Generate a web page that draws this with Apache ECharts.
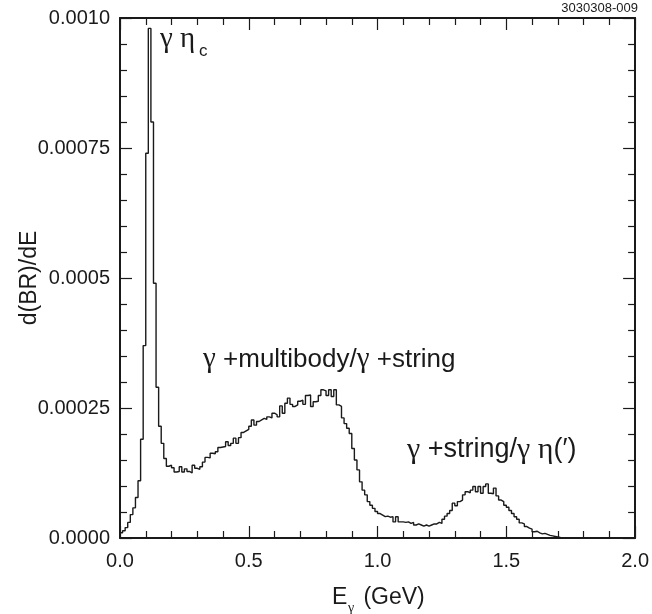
<!DOCTYPE html>
<html>
<head>
<meta charset="utf-8">
<script src="https://cdn.jsdelivr.net/npm/echarts@6/dist/echarts.min.js"></script>
<style>
html,body{margin:0;padding:0;background:#fff;}
#chart{width:652px;height:614px;}
</style>
</head>
<body>
<div id="chart"></div>
<script>
// Histogram: photon energy spectrum, bins of 0.01 GeV starting at 0
const binWidth = 0.01;
const dBRdE = [
  0.000010, 0.000014, 0.000020, 0.000030, 0.000045, 0.000058, 0.000078, 0.000110, 0.000190, 0.000370,
  0.000740, 0.000980, 0.000800, 0.000490, 0.000290, 0.000215, 0.000182, 0.000153, 0.000138, 0.000140,
  0.000135, 0.000127, 0.000128, 0.000137, 0.000127, 0.000133, 0.000128, 0.000125, 0.000140, 0.000134,
  0.000132, 0.000137, 0.000146, 0.000155, 0.000154, 0.000163, 0.000162, 0.000166, 0.000174, 0.000175,
  0.000176, 0.000185, 0.000178, 0.000182, 0.000192, 0.000182, 0.000193, 0.000203, 0.000206, 0.000209,
  0.000215, 0.000227, 0.000217, 0.000224, 0.000227, 0.000230, 0.000228, 0.000233, 0.000231, 0.000240,
  0.000237, 0.000233, 0.000254, 0.000240, 0.000259, 0.000269, 0.000257, 0.000253, 0.000256, 0.000263,
  0.000265, 0.000257, 0.000274, 0.000275, 0.000253, 0.000262, 0.000263, 0.000274, 0.000285, 0.000283,
  0.000274, 0.000285, 0.000272, 0.000285, 0.000256, 0.000253, 0.000231, 0.000220, 0.000211, 0.000201,
  0.000172, 0.000150, 0.000131, 0.000108, 0.000092, 0.000083, 0.000070, 0.000063, 0.000057, 0.000051,
  0.000047, 0.000044, 0.000041, 0.000042, 0.000040, 0.000041, 0.000031, 0.000041, 0.000031, 0.000031,
  0.000030, 0.000031, 0.000028, 0.000030, 0.000025, 0.000027, 0.000025, 0.000023, 0.000025, 0.000023,
  0.000025, 0.000027, 0.000027, 0.000030, 0.000028, 0.000036, 0.000042, 0.000047, 0.000053, 0.000067,
  0.000062, 0.000070, 0.000073, 0.000083, 0.000089, 0.000087, 0.000092, 0.000099, 0.000089, 0.000099,
  0.000086, 0.000099, 0.000104, 0.000086, 0.000085, 0.000096, 0.000081, 0.000073, 0.000070, 0.000063,
  0.000059, 0.000053, 0.000047, 0.000041, 0.000036, 0.000029, 0.000027, 0.000022, 0.000019, 0.000017,
  0.000012, 0.000013, 0.000010, 0.000008, 0.000009, 0.000007, 0.000005, 0.000004, 0.000003, 0.000002,
  0.000001
];
const xTickValues = [0, 0.5, 1.0, 1.5, 2.0];
const xTickLabels = ['0.0', '0.5', '1.0', '1.5', '2.0'];
const yTickValues = [0, 0.00025, 0.0005, 0.00075, 0.001];
const yTickLabels = ['0.0000', '0.00025', '0.0005', '0.00075', '0.0010'];

// build step data: [left edge, value], ending on the right edge of last bin
const histData = [[0, 0]];
dBRdE.forEach((v, i) => histData.push([+(i * binWidth).toFixed(4), v]));
histData.push([+(dBRdE.length * binWidth).toFixed(4), 0]);

function nearestLabel(vals, labels, v) {
  let best = 0;
  for (let i = 1; i < vals.length; i++) if (Math.abs(vals[i] - v) < Math.abs(vals[best] - v)) best = i;
  return Math.abs(vals[best] - v) < 1e-9 ? labels[best] : '';
}

const BLACK = '#1a1a1a';
const SANS = '"Liberation Sans", Arial, Helvetica, sans-serif';
const SERIF = '"Liberation Serif", "Times New Roman", serif';

const commonX = {
  type: 'value', min: 0, max: 2, interval: 0.5,
  axisLine: { show: true, onZero: false, lineStyle: { color: BLACK, width: 2 } },
  axisTick: { show: true, inside: true, length: 12, lineStyle: { color: BLACK, width: 1.2 } },
  minorTick: { show: true, splitNumber: 5, length: 7, lineStyle: { color: BLACK, width: 1.2 } },
  splitLine: { show: false }, minorSplitLine: { show: false }
};
const commonY = {
  type: 'value', min: 0, max: 0.001, interval: 0.00025,
  axisLine: { show: true, onZero: false, lineStyle: { color: BLACK, width: 2 } },
  axisTick: { show: true, inside: true, length: 12, lineStyle: { color: BLACK, width: 1.2 } },
  minorTick: { show: true, splitNumber: 5, length: 7, lineStyle: { color: BLACK, width: 1.2 } },
  splitLine: { show: false }, minorSplitLine: { show: false }
};

const chart = echarts.init(document.getElementById('chart'), null, { renderer: 'canvas' });
chart.setOption({
  animation: false,
  backgroundColor: '#fff',
  grid: { left: 120, right: 12, top: 18, bottom: 76, containLabel: false },
  xAxis: [
    Object.assign({}, commonX, {
      position: 'bottom',
      axisLabel: { show: true, margin: 13, fontSize: 20, color: BLACK, fontFamily: SANS,
        formatter: v => nearestLabel(xTickValues, xTickLabels, v) }
    }),
    Object.assign({}, commonX, { position: 'top', axisLabel: { show: false } })
  ],
  yAxis: [
    Object.assign({}, commonY, {
      position: 'left',
      axisLabel: { show: true, margin: 10, fontSize: 20, color: BLACK, fontFamily: SANS,
        formatter: v => nearestLabel(yTickValues, yTickLabels, v) }
    }),
    Object.assign({}, commonY, { position: 'right', axisLabel: { show: false } })
  ],
  series: [{
    type: 'line', step: 'end', data: histData, symbol: 'none',
    xAxisIndex: 0, yAxisIndex: 0,
    lineStyle: { color: BLACK, width: 1.4 }, clip: true
  }],
  graphic: [
    { type: 'text', x: 30, y: 278, rotation: Math.PI / 2,
      style: { text: 'd(BR)/dE', font: '23px ' + SANS, fill: BLACK,
        textAlign: 'center', textVerticalAlign: 'middle', align: 'center', verticalAlign: 'middle' } },
    { type: 'text', left: 160, top: 25,
      style: { text: 'γ η', font: '29px ' + SERIF, fill: BLACK } },
    { type: 'text', left: 199, top: 43,
      style: { text: 'c', font: '17px ' + SANS, fill: BLACK } },
    { type: 'text', left: 203, top: 345,
      style: { text: '{g|γ} +multibody/{g|γ} +string', font: '26px ' + SANS, fill: BLACK,
        rich: { g: { fontFamily: SERIF, fontSize: 29, fill: BLACK } } } },
    { type: 'text', left: 407, top: 435,
      style: { text: '{g|γ} +string/{g|γ η}(′)', font: '27px ' + SANS, fill: BLACK,
        rich: { g: { fontFamily: SERIF, fontSize: 30, fill: BLACK } } } },
    { type: 'text', left: 332, top: 586,
      style: { text: 'E', font: '23px ' + SANS, fill: BLACK } },
    { type: 'text', left: 348, top: 601,
      style: { text: 'γ', font: '14px ' + SERIF, fill: BLACK } },
    { type: 'text', left: 357, top: 586,
      style: { text: ' (GeV)', font: '23px ' + SANS, fill: BLACK } },
    { type: 'text', right: 14, top: 2,
      style: { text: '3030308-009', font: '13px ' + SANS, fill: BLACK } }
  ]
});
</script>
</body>
</html>
